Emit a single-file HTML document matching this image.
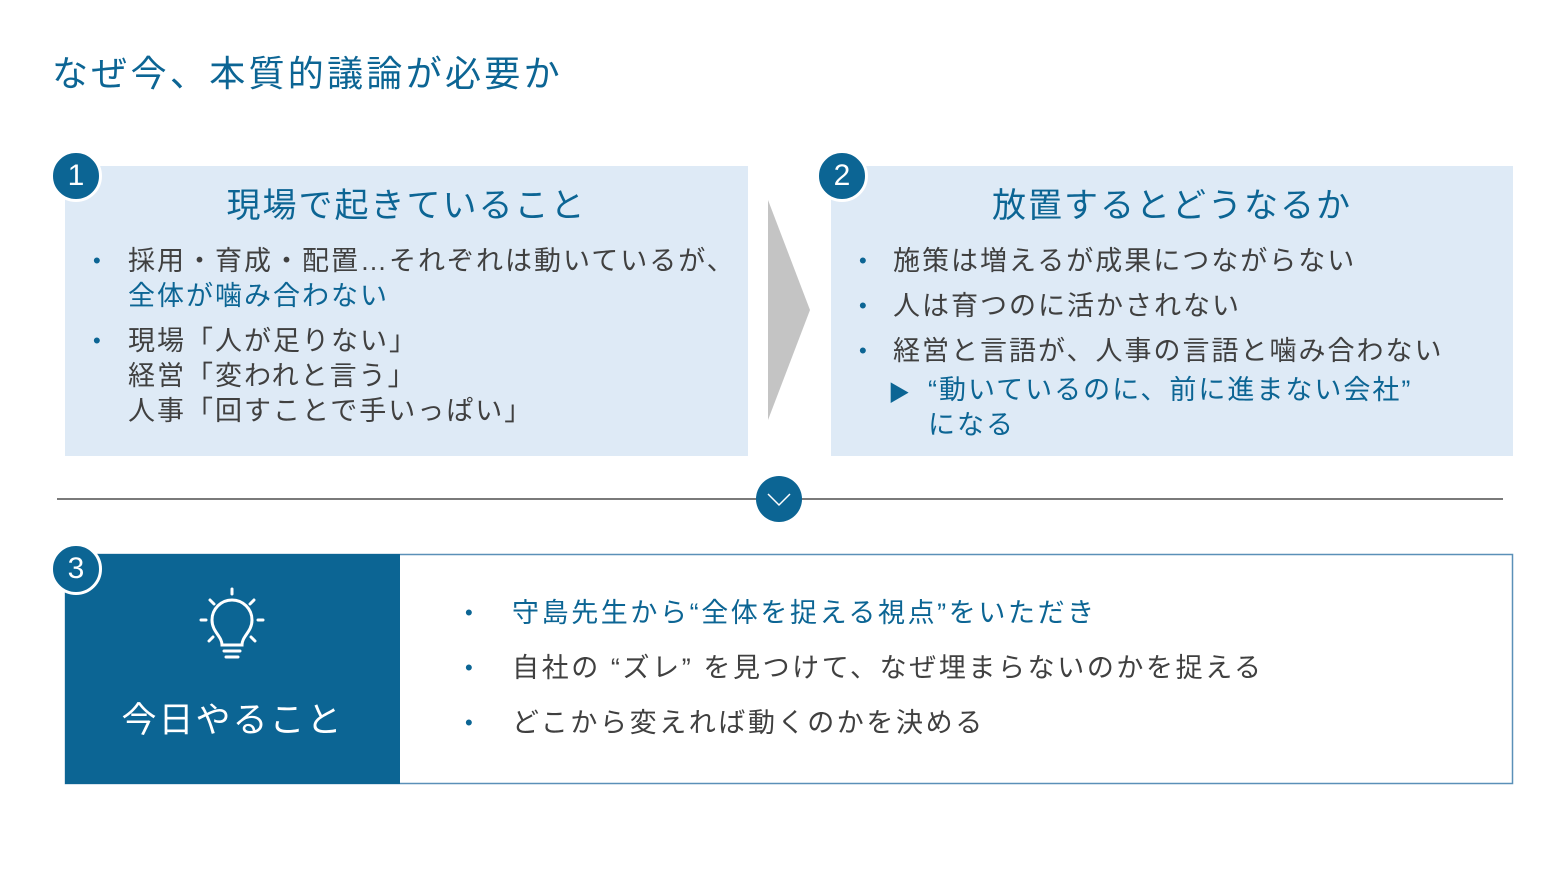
<!DOCTYPE html>
<html><head><meta charset="utf-8"><style>
body{margin:0;width:1560px;height:877px;background:#fff;position:relative;overflow:hidden;font-family:"Liberation Sans","Noto Sans CJK JP",sans-serif;color:#404040}
.a{position:absolute;white-space:nowrap}
.b{color:#0c6594}
.box{position:absolute;background:#deeaf6}
.badge{position:absolute;width:46px;height:46px;border-radius:50%;background:#0c6594;border:3px solid #fff;color:#fff;font-size:30px;line-height:46px;text-align:center}
.t{font-size:27px;line-height:35px;letter-spacing:2px}
.dot{color:#0c6594;font-size:22px}
</style></head><body>
<div class="a b" style="left:52px;top:45px;font-size:36px;letter-spacing:3.3px">なぜ今、本質的議論が必要か</div>

<div class="box" style="left:65px;top:166px;width:683px;height:290px"></div>
<div class="box" style="left:831px;top:166px;width:682px;height:290px"></div>
<div class="badge" style="left:50px;top:150px">1</div>
<div class="badge" style="left:816px;top:150px">2</div>

<div class="a b" style="left:65px;width:683px;text-align:center;top:178px;font-size:34px;letter-spacing:2px">現場で起きていること</div>
<div class="a b" style="left:831px;width:682px;text-align:center;top:178px;font-size:34px;letter-spacing:2px">放置するとどうなるか</div>

<div class="a dot" style="left:93px;top:248px">•</div>
<div class="a t" style="left:128px;top:244px">採用・育成・配置…それぞれは動いているが、<br><span class="b">全体が噛み合わない</span></div>
<div class="a dot" style="left:93px;top:328px">•</div>
<div class="a t" style="left:128px;top:324px">現場「人が足りない」<br>経営「変われと言う」<br>人事「回すことで手いっぱい」</div>

<div class="a dot" style="left:859px;top:248px">•</div>
<div class="a t" style="left:893px;top:244px">施策は増えるが成果につながらない</div>
<div class="a dot" style="left:859px;top:293px">•</div>
<div class="a t" style="left:893px;top:289px">人は育つのに活かされない</div>
<div class="a dot" style="left:859px;top:338px">•</div>
<div class="a t" style="left:893px;top:334px">経営と言語が、人事の言語と噛み合わない</div>
<div class="a b" style="left:888px;top:376px;font-size:22px">▶</div>
<div class="a t b" style="left:928px;top:373px">“動いているのに、前に進まない会社”<br>になる</div>

<svg class="a" style="left:0;top:0" width="1560" height="877">
<polygon points="768,200 810,310 768,420" fill="#c4c4c4"/>
<line x1="57" y1="499" x2="1503" y2="499" stroke="#7a7a7a" stroke-width="2"/>
<circle cx="779" cy="499" r="23" fill="#0c6594"/>
<polyline points="768,494 779,505 790,494" fill="none" stroke="#fff" stroke-width="1.5"/>
<rect x="65.5" y="554.5" width="1447" height="229" fill="#fff" stroke="#5a90b8" stroke-width="1.5"/>
<rect x="65" y="554" width="335" height="230" fill="#0c6594"/>
<g stroke="#fff" stroke-width="3" fill="none" stroke-linecap="round">
<path d="M222,645 C222,636 212,632 212,620 A20,20 0 0 1 252,620 C252,632 242,636 242,645 Z"/>
<line x1="224" y1="651" x2="240" y2="651"/><line x1="226" y1="657" x2="238" y2="657"/>
<line x1="232" y1="589" x2="232" y2="594"/>
<line x1="210" y1="600" x2="214" y2="604"/><line x1="254" y1="600" x2="250" y2="604"/>
<line x1="201" y1="620" x2="206" y2="620"/><line x1="258" y1="620" x2="263" y2="620"/>
<line x1="209" y1="641" x2="213" y2="637"/><line x1="255" y1="641" x2="251" y2="637"/>
</g>
</svg>
<div class="badge" style="left:50px;top:543px">3</div>
<div class="a" style="left:65px;width:335px;text-align:center;top:692px;font-size:35px;letter-spacing:2px;color:#fff">今日やること</div>

<div class="a dot" style="left:465px;top:600px">•</div>
<div class="a t b" style="left:512px;top:596px;letter-spacing:2.6px">守島先生から“全体を捉える視点”をいただき</div>
<div class="a dot" style="left:465px;top:655px">•</div>
<div class="a t" style="left:512px;top:651px;letter-spacing:2.6px">自社の “ズレ” を見つけて、なぜ埋まらないのかを捉える</div>
<div class="a dot" style="left:465px;top:710px">•</div>
<div class="a t" style="left:512px;top:706px;letter-spacing:2.6px">どこから変えれば動くのかを決める</div>
</body></html>
